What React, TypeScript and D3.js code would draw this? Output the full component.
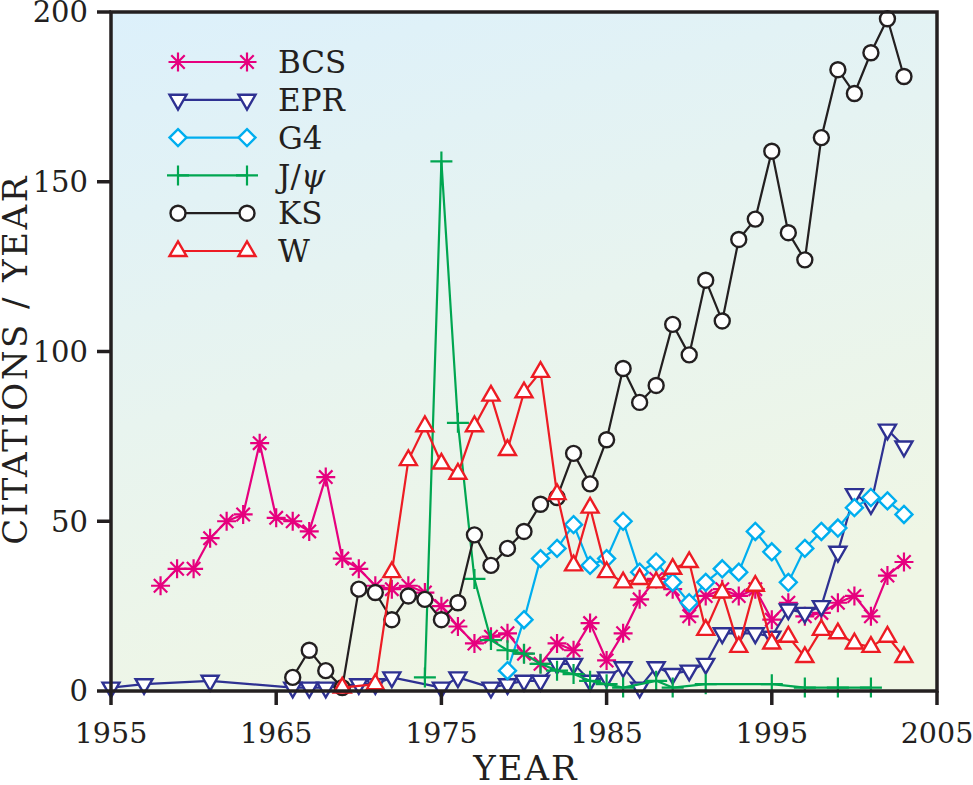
import { useEffect, useRef } from 'react'
import * as d3 from 'd3'

// citations per year
const BCS_YEARS = d3.range(1958, 2004)
const BCS = [31, 36, 36, 45, 50, 52, 73, 51, 50, 47, 63, 39, 36, 31, 30, 31, 29, 25, 19, 14, 16, 17, 11, 8, 14, 12, 20, 9, 17, 27, 33, 30, 22, 28, 30, 28, 30, 21, 26, 22, 23, 26, 28, 22, 34, 38]

const EPR_YEARS = [1955, 1957, 1961, 1966, 1967, 1968, 1970, 1971, 1972, 1975, 1976, 1978, 1979, 1980, 1981, 1982, 1983, 1984, 1985, 1986, 1987, 1988, 1989, 1990, 1991, 1992, 1993, 1994, 1995, 1996, 1997, 1998, 1999, 2000, 2001, 2002, 2003]
const EPR = [1, 2, 3, 1, 1, 1, 2, 2, 4, 1, 4, 1, 2, 3, 3, 8, 8, 3, 4, 7, 1, 7, 5, 6, 8, 17, 17, 17, 16, 24, 23, 25, 41, 58, 55, 77, 72]

const G4_YEARS = d3.range(1979, 2004)
const G4 = [6, 21, 39, 42, 49, 37, 39, 50, 35, 38, 32, 26, 32, 36, 35, 47, 41, 32, 42, 47, 48, 54, 57, 56, 52]

const JPSI_YEARS = [1974, 1975, 1976, 1977, 1978, 1979, 1980, 1981, 1982, 1983, 1984, 1985, 1986, 1988, 1989, 1991, 1995, 1997, 1999, 2001]
const JPSI = [4, 156, 79, 33, 15, 12, 11, 8, 6, 5, 3, 2, 1, 3, 1, 2, 2, 1, 1, 1]

const KS_YEARS = d3.range(1966, 2004)
const KS = [4, 12, 6, 1, 30, 29, 21, 28, 27, 21, 26, 46, 37, 42, 47, 55, 57, 70, 61, 74, 95, 85, 90, 108, 99, 121, 109, 133, 139, 159, 135, 127, 163, 183, 176, 188, 198, 181]

const W_YEARS = [1969, 1971, 1972, 1973, 1974, 1975, 1976, 1977, 1978, 1979, 1980, 1981, 1982, 1983, 1984, 1985, 1986, 1987, 1988, 1989, 1990, 1991, 1992, 1993, 1994, 1995, 1996, 1997, 1998, 1999, 2000, 2001, 2002, 2003]
const W = [1, 2, 35, 68, 78, 67, 64, 78, 87, 71, 88, 94, 58, 37, 54, 35, 32, 33, 32, 36, 38, 18, 29, 13, 31, 14, 16, 10, 18, 17, 14, 13, 16, 10]

const X_TICKS = [1955, 1965, 1975, 1985, 1995, 2005]
const Y_TICKS = [0, 50, 100, 150, 200]

type Marker = 'asterisk' | 'triDown' | 'diamond' | 'plus' | 'circle' | 'triUp'

const SERIES: { name: string; color: string; marker: Marker; years: number[]; values: number[] }[] = [
  { name: 'BCS', color: '#e6007e', marker: 'asterisk', years: BCS_YEARS, values: BCS },
  { name: 'EPR', color: '#2e3192', marker: 'triDown', years: EPR_YEARS, values: EPR },
  { name: 'G4', color: '#00aeef', marker: 'diamond', years: G4_YEARS, values: G4 },
  { name: 'J/ψ', color: '#00a651', marker: 'plus', years: JPSI_YEARS, values: JPSI },
  { name: 'KS', color: '#231f20', marker: 'circle', years: KS_YEARS, values: KS },
  { name: 'W', color: '#ed1c24', marker: 'triUp', years: W_YEARS, values: W },
]

const FONT = '"DejaVu Serif", serif'
const INK = '#231f20'

function drawMarker(g: d3.Selection<SVGGElement, unknown, null, undefined>, kind: Marker, color: string) {
  const sw = 2.4
  if (kind === 'circle') {
    g.append('circle').attr('r', 7.5).attr('fill', '#fff').attr('stroke', color).attr('stroke-width', sw)
  } else if (kind === 'triDown') {
    g.append('path').attr('d', 'M-8.5,-5L8.5,-5L0,9.7Z').attr('fill', '#fff').attr('stroke', color).attr('stroke-width', sw)
  } else if (kind === 'triUp') {
    g.append('path').attr('d', 'M-8.5,5L8.5,5L0,-9.7Z').attr('fill', '#fff').attr('stroke', color).attr('stroke-width', sw)
  } else if (kind === 'diamond') {
    g.append('path').attr('d', 'M0,-8.5L8.5,0L0,8.5L-8.5,0Z').attr('fill', '#fff').attr('stroke', color).attr('stroke-width', sw)
  } else if (kind === 'plus') {
    g.append('path').attr('d', 'M-11,0H11M0,-10V10').attr('stroke', color).attr('stroke-width', 2.2)
  } else {
    const r = 9.5
    const d = r * Math.SQRT1_2
    g.append('path')
      .attr('d', `M${-r},0H${r}M0,${-r}V${r}M${-d},${-d}L${d},${d}M${-d},${d}L${d},${-d}`)
      .attr('stroke', color).attr('stroke-width', 2.2)
  }
}

export default function App() {
  const svgRef = useRef<SVGSVGElement>(null)

  useEffect(() => {
    if (!svgRef.current) return
    const svg = d3.select(svgRef.current)
    svg.selectAll('*').remove()

    const left = 111, right = 937, top = 12, bottom = 691
    const x = d3.scaleLinear().domain([1955, 2005]).range([left, right])
    const y = d3.scaleLinear().domain([0, 200]).range([bottom, top])

    const defs = svg.append('defs')
    const grad = defs.append('linearGradient').attr('id', 'bg')
      .attr('x1', 0).attr('y1', 0).attr('x2', 0.35).attr('y2', 1)
    grad.append('stop').attr('offset', '0%').attr('stop-color', '#dcf0fb')
    grad.append('stop').attr('offset', '55%').attr('stop-color', '#e8f4ef')
    grad.append('stop').attr('offset', '100%').attr('stop-color', '#eff6e5')

    svg.append('rect')
      .attr('x', left).attr('y', top)
      .attr('width', right - left).attr('height', bottom - top)
      .attr('fill', 'url(#bg)')

    // series
    const line = d3.line<[number, number]>().x((d) => x(d[0])).y((d) => y(d[1]))
    SERIES.forEach((s) => {
      const pts: [number, number][] = s.years.map((yr, i) => [yr, s.values[i]])
      const g = svg.append('g')
      g.append('path').attr('d', line(pts)).attr('fill', 'none')
        .attr('stroke', s.color).attr('stroke-width', 2.2).attr('stroke-linejoin', 'round')
      pts.forEach((p) => {
        const m = g.append('g').attr('transform', `translate(${x(p[0])},${y(p[1])})`)
        drawMarker(m, s.marker, s.color)
      })
    })

    // frame
    svg.append('rect')
      .attr('x', left).attr('y', top)
      .attr('width', right - left).attr('height', bottom - top)
      .attr('fill', 'none').attr('stroke', INK).attr('stroke-width', 3.5)

    // ticks
    const tickLen = 14
    X_TICKS.forEach((t) => {
      svg.append('line').attr('x1', x(t)).attr('x2', x(t)).attr('y1', bottom).attr('y2', bottom + tickLen)
        .attr('stroke', INK).attr('stroke-width', 3.5)
      svg.append('text').attr('x', x(t)).attr('y', 743)
        .attr('text-anchor', 'middle').attr('font-family', FONT).attr('font-size', 28.5)
        .attr('fill', INK).text(t)
    })
    Y_TICKS.forEach((t) => {
      svg.append('line').attr('x1', left - tickLen).attr('x2', left).attr('y1', y(t)).attr('y2', y(t))
        .attr('stroke', INK).attr('stroke-width', 3.5)
      svg.append('text').attr('x', 88).attr('y', y(t)).attr('dy', '0.36em')
        .attr('text-anchor', 'end').attr('font-family', FONT).attr('font-size', 29)
        .attr('fill', INK).text(t)
    })

    // axis titles
    svg.append('text').attr('x', (left + right) / 2 + 2).attr('y', 780)
      .attr('text-anchor', 'middle').attr('font-family', FONT).attr('font-size', 34)
      .attr('letter-spacing', 2).attr('fill', INK).text('YEAR')
    svg.append('text')
      .attr('transform', `translate(27,${(top + bottom) / 2 + 8}) rotate(-90)`)
      .attr('text-anchor', 'middle').attr('font-family', FONT).attr('font-size', 34)
      .attr('letter-spacing', 2.5).attr('fill', INK).text('CITATIONS / YEAR')

    // legend
    const lg = svg.append('g')
    SERIES.forEach((s, i) => {
      const ly = 62 + i * 37.8
      lg.append('line').attr('x1', 178).attr('x2', 247).attr('y1', ly).attr('y2', ly)
        .attr('stroke', s.color).attr('stroke-width', 2.2)
      ;[178, 247].forEach((lx) => {
        const m = lg.append('g').attr('transform', `translate(${lx},${ly})`)
        drawMarker(m, s.marker, s.color)
      })
      const t = lg.append('text').attr('x', 278).attr('y', ly).attr('dy', '0.36em')
        .attr('font-family', FONT).attr('font-size', 31).attr('fill', INK)
      if (s.name === 'J/ψ') {
        t.append('tspan').text('J/')
        t.append('tspan').attr('font-style', 'italic').text('ψ')
      } else {
        t.text(s.name)
      }
    })
  }, [])

  return (
    <div style={{ position: 'absolute', left: 0, top: 0 }}>
      <svg ref={svgRef} width={973} height={785} style={{ display: 'block' }} />
    </div>
  )
}
